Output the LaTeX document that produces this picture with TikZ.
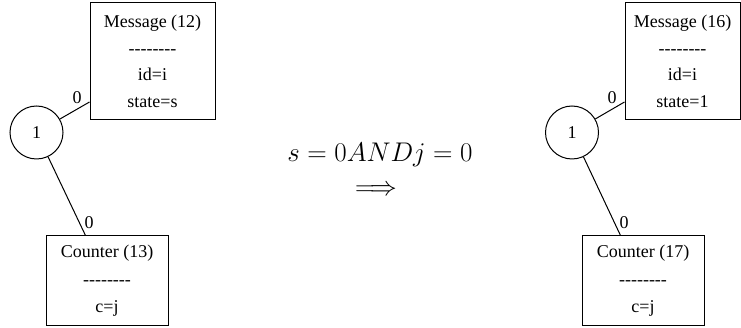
\RequirePackage{fix-cm}
\documentclass[tikz,border=0pt]{standalone}
\usepackage{fontspec}
\setmainfont{Liberation Serif}
\newcommand\dashrow{\mbox{-}\mbox{-}\mbox{-}\mbox{-}\mbox{-}\mbox{-}\mbox{-}\mbox{-}}
\begin{document}
\begin{tikzpicture}[x=1pt,y=-1pt,
  box/.style={draw, rectangle, line width=1pt, inner sep=0pt, align=center},
  mbox/.style={box, font=\fontsize{18}{26.5}\selectfont, minimum height=117pt},
  cbox/.style={box, font=\fontsize{18}{27.5}\selectfont, minimum width=122pt, minimum height=90pt},
  ball/.style={draw, circle, line width=1pt, minimum size=53pt, inner sep=0pt, font=\fontsize{18}{20}\selectfont},
  edge/.style={draw, line width=1pt},
  lbl/.style={font=\fontsize{18}{20}\selectfont, inner sep=0pt},
  mathtxt/.style={font=\fontsize{27}{30}\selectfont, inner sep=0pt}]
\useasboundingbox (0,0) rectangle (741,328);
% left graph
\node[mbox, minimum width=125pt] (m1) at (152.5,61.5) {Message (12)\\\dashrow\\id=i\\state=s};
\node[ball] (c1) at (36.5,132.5) {1};
\node[cbox] (k1) at (107,281) {Counter (13)\\\dashrow\\c=j};
\draw[edge] (c1) -- ([yshift=18.5pt]m1.south west);
\draw[edge] (c1) -- ([xshift=40pt]k1.north west);
\node[lbl] (l1) at (77,98) {0};
\node[lbl] (l2) at (89,222.5) {0};
% rule
\node[mathtxt] (cond) at (380,155) {$s = 0 AND j = 0$};
\node[mathtxt] (arrow) at (376,191) {$\Longrightarrow$};
% right graph
\node[mbox, minimum width=115pt] (m2) at (682.5,61.5) {Message (16)\\\dashrow\\id=i\\state=1};
\node[ball] (c2) at (572,132.5) {1};
\node[cbox] (k2) at (643,281) {Counter (17)\\\dashrow\\c=j};
\draw[edge] (c2) -- ([yshift=18.5pt]m2.south west);
\draw[edge] (c2) -- ([xshift=39pt]k2.north west);
\node[lbl] (l3) at (612,98) {0};
\node[lbl] (l4) at (624,222.5) {0};
\end{tikzpicture}
\end{document}
